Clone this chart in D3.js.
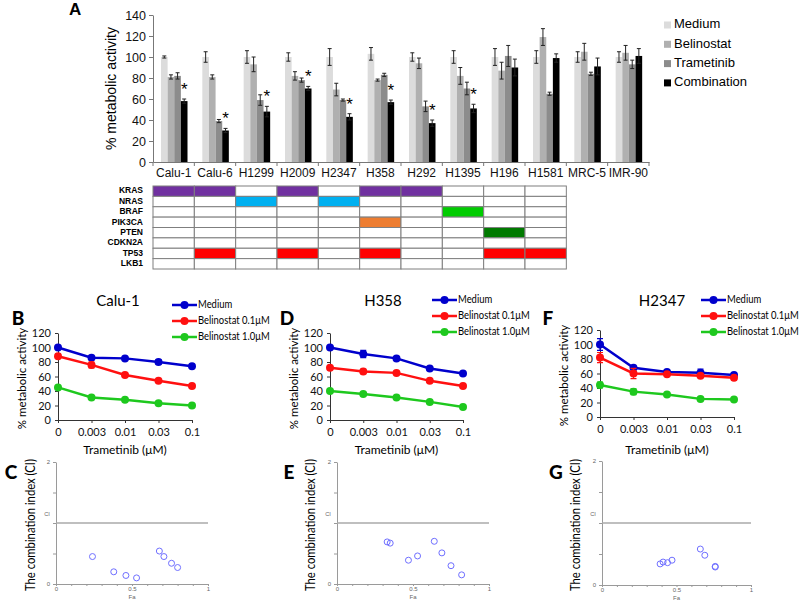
<!DOCTYPE html>
<html>
<head>
<meta charset="utf-8">
<script src="https://cdn.jsdelivr.net/npm/d3@7"></script>
<style>
  body { margin: 0; background: #fff; }
  svg { display: block; }
</style>
</head>
<body>
<script>
// ---------- panel A: bars ----------
const cellLines = ["Calu-1", "Calu-6", "H1299", "H2009", "H2347", "H358", "H292", "H1395", "H196", "H1581", "MRC-5", "IMR-90"];
const treatments = ["Medium", "Belinostat", "Trametinib", "Combination"];
const mediumMean = [100, 100, 100, 100, 100, 103, 100, 100, 100, 100, 100, 100];
const mediumErr = [1, 5, 6, 4, 8, 6, 4, 6, 8, 6, 5, 5];
const belinostatMean = [81, 81, 93, 82, 69, 78, 94, 82, 87, 119, 105, 104];
const belinostatErr = [2, 2, 7, 4, 6, 1, 5, 8, 8, 8, 8, 7];
const trametinibMean = [82, 39, 59, 78, 59, 83, 53, 70, 101, 65, 84, 93];
const trametinibErr = [3, 1.5, 5, 2, 1, 1.5, 5, 6, 10, 1.5, 1.5, 4];
const combinationMean = [58, 30, 48, 70, 43, 57, 37, 51, 90, 99, 91, 101];
const combinationErr = [2, 2, 5, 2, 3, 2, 3, 4, 8, 4, 8, 7];
const significant = ["Calu-1", "Calu-6", "H1299", "H2009", "H2347", "H358", "H292", "H1395"];
const yTicksA = [0, 20, 40, 60, 80, 100, 120, 140];

// mutation table
const tableLines = cellLines.slice(0, 10);
const genes = ["KRAS", "NRAS", "BRAF", "PIK3CA", "PTEN", "CDKN2A", "TP53", "LKB1"];
const mutKRAS = ["Calu-1", "Calu-6", "H2009", "H358", "H292"];
const mutNRAS = ["H1299", "H2347"];
const mutBRAF = ["H1395"];
const mutPIK3CA = ["H358"];
const mutPTEN = ["H196"];
const mutCDKN2A = [];
const mutTP53 = ["Calu-6", "H2009", "H358", "H196", "H1581"];
const mutLKB1 = [];

// ---------- panels B, D, F: dose response ----------
const doses = ["0", "0.003", "0.01", "0.03", "0.1"];
const doseSeries = ["Medium", "Belinostat 0.1\u03bcM", "Belinostat 1.0\u03bcM"];
const yTicksDose = [0, 20, 40, 60, 80, 100, 120];

const calu1Medium = [100, 86, 85, 80, 74];
const calu1MediumErr = [2, 2, 2, 3, 2];
const calu1Bel01 = [88, 76, 62, 54, 47];
const calu1Bel01Err = [3, 4, 2, 2, 2];
const calu1Bel10 = [45, 31, 28, 23, 20];
const calu1Bel10Err = [2, 2, 1, 1, 1];

const h358Medium = [100, 91, 85, 71, 64];
const h358MediumErr = [2, 5, 2, 2, 2];
const h358Bel01 = [72, 67, 65, 54, 47];
const h358Bel01Err = [2, 3, 2, 2, 1];
const h358Bel10 = [40, 36, 31, 25, 18];
const h358Bel10Err = [1, 1, 1, 1, 1];

const h2347Medium = [100, 68, 62, 61, 58];
const h2347MediumErr = [8, 2, 2, 5, 2];
const h2347Bel01 = [82, 60, 59, 57, 54];
const h2347Bel01Err = [7, 7, 2, 2, 3];
const h2347Bel10 = [44, 35, 31, 25, 24];
const h2347Bel10Err = [4, 4, 1, 1, 1];

// ---------- panels C, E, G: combination index ----------
const calu1Fa = [0.24, 0.38, 0.46, 0.53, 0.68, 0.71, 0.76, 0.80];
const calu1CI = [0.45, 0.20, 0.14, 0.10, 0.54, 0.45, 0.34, 0.27];
const h358Fa = [0.33, 0.35, 0.47, 0.53, 0.64, 0.69, 0.75, 0.82];
const h358CI = [0.69, 0.67, 0.39, 0.46, 0.70, 0.51, 0.30, 0.15];
const h2347Fa = [0.39, 0.41, 0.44, 0.47, 0.66, 0.69, 0.76, 0.76];
const h2347CI = [0.34, 0.37, 0.36, 0.40, 0.58, 0.48, 0.30, 0.29];

const arial = "'Liberation Sans', Arial, sans-serif";
const cal = "Lato, 'Open Sans', sans-serif";

const svg = d3.select("body").append("svg").attr("width", 800).attr("height", 600);

// ================= A =================
const barColors = ["#dcdcdc", "#b0b0b0", "#8c8c8c", "#000000"];
const barSeries = [
  {name: "Medium", mean: mediumMean, err: mediumErr},
  {name: "Belinostat", mean: belinostatMean, err: belinostatErr},
  {name: "Trametinib", mean: trametinibMean, err: trametinibErr},
  {name: "Combination", mean: combinationMean, err: combinationErr}
];

const xA = d3.scaleBand().domain(cellLines).range([153, 649]);
const xBar = d3.scaleBand().domain(treatments).range([8, 34.5]);
const yA = d3.scaleLinear().domain([0, 140]).range([162, 15]);

svg.append("text").attr("x", 69).attr("y", 15).text("A")
  .attr("font-family", arial).attr("font-weight", "bold").attr("font-size", 17);

const axA = svg.append("g").attr("transform", "translate(153,0)")
  .call(d3.axisLeft(yA).tickValues(yTicksA).tickSize(4).tickSizeOuter(0).tickPadding(3));
axA.selectAll("text").attr("font-family", arial).attr("font-size", 12.5).attr("fill", "#111");
axA.select(".domain").attr("stroke", "#777");
axA.selectAll(".tick line").attr("stroke", "#777");

svg.append("text")
  .attr("transform", `translate(112,${(yA(0) + yA(140)) / 2}) rotate(-90)`)
  .attr("text-anchor", "middle").attr("dominant-baseline", "middle")
  .attr("font-family", arial).attr("font-size", 14).text("% metabolic activity");

// x axis: labels at band centers, ticks at band edges
const axAx = svg.append("g").attr("transform", `translate(0,${yA(0)})`)
  .call(d3.axisBottom(xA).tickSize(0).tickPadding(6));
axAx.select(".domain").attr("stroke", "#777");
axAx.selectAll("text").attr("font-family", arial).attr("font-size", 12).attr("fill", "#111");
const edges = cellLines.map(d => xA(d)).concat([xA.range()[1]]);
svg.append("g").selectAll("line").data(edges).join("line")
  .attr("x1", d => d).attr("x2", d => d)
  .attr("y1", yA(0)).attr("y2", yA(0) + 4)
  .attr("stroke", "#777");

const gBars = svg.append("g");
barSeries.forEach((s, k) => {
  const g = gBars.append("g");
  g.selectAll("rect").data(cellLines).join("rect")
    .attr("x", d => xA(d) + xBar(s.name))
    .attr("width", xBar.bandwidth())
    .attr("y", (d, i) => yA(s.mean[i]))
    .attr("height", (d, i) => yA(0) - yA(s.mean[i]))
    .attr("fill", barColors[k]);
  g.selectAll("path").data(cellLines).join("path")
    .attr("d", (d, i) => {
      const cx = xA(d) + xBar(s.name) + xBar.bandwidth() / 2;
      const t = yA(s.mean[i] + s.err[i]), b = yA(s.mean[i] - s.err[i]);
      return `M${cx - 2},${t}H${cx + 2}M${cx},${t}V${b}M${cx - 2},${b}H${cx + 2}`;
    })
    .attr("stroke", "#222").attr("stroke-width", 1).attr("fill", "none");
});

// significance stars over the combination bar
svg.append("g").selectAll("text").data(significant).join("text")
  .attr("x", d => xA(d) + xBar("Combination") + xBar.bandwidth() / 2)
  .attr("y", d => {
    const i = cellLines.indexOf(d);
    return yA(combinationMean[i] + combinationErr[i]) - 4;
  })
  .attr("text-anchor", "middle")
  .attr("font-family", arial).attr("font-size", 17).text("*");

// legend
const legA = svg.append("g").attr("transform", "translate(664,25)");
treatments.forEach((t, i) => {
  legA.append("rect").attr("x", 0).attr("y", i * 19.3 - 3.5).attr("width", 7).attr("height", 7).attr("fill", barColors[i]);
  legA.append("text").attr("x", 10).attr("y", i * 19.3).attr("dominant-baseline", "middle")
    .attr("font-family", arial).attr("font-size", 13).text(t);
});

// mutation table
const geneMuts = [mutKRAS, mutNRAS, mutBRAF, mutPIK3CA, mutPTEN, mutCDKN2A, mutTP53, mutLKB1];
const geneColors = ["#7030a0", "#00b0f0", "#00cc00", "#ed7d31", "#007a00", "#ffffff", "#ff0000", "#ffffff"];
const yRow = d3.scaleBand().domain(genes).range([186, 269]);
const gTab = svg.append("g");
genes.forEach((gname, r) => {
  gTab.append("g").selectAll("rect").data(tableLines).join("rect")
    .attr("x", d => xA(d)).attr("width", xA.bandwidth())
    .attr("y", yRow(gname)).attr("height", yRow.bandwidth())
    .attr("fill", d => geneMuts[r].includes(d) ? geneColors[r] : "#ffffff")
    .attr("stroke", "#7f7f7f").attr("stroke-width", 1);
  gTab.append("text").attr("x", 143).attr("y", yRow(gname) + yRow.bandwidth() / 2)
    .attr("text-anchor", "end").attr("dominant-baseline", "middle")
    .attr("font-family", arial).attr("font-weight", "bold").attr("font-size", 8.5).text(gname);
});

// ================= B, D, F =================
const doseColors = ["#0000cc", "#ff1010", "#1ec81e"];
const dosePanels = [
  {title: "Calu-1", letter: "B", means: [calu1Medium, calu1Bel01, calu1Bel10], errs: [calu1MediumErr, calu1Bel01Err, calu1Bel10Err],
   left: 58, right: 192, top: 333, bottom: 420, titleX: 118, letterX: 18, legX: 172, legY: 305, legGap: 16},
  {title: "H358", letter: "D", means: [h358Medium, h358Bel01, h358Bel10], errs: [h358MediumErr, h358Bel01Err, h358Bel10Err],
   left: 330, right: 463, top: 333, bottom: 420, titleX: 383, letterX: 287, legX: 432, legY: 300, legGap: 16},
  {title: "H2347", letter: "F", means: [h2347Medium, h2347Bel01, h2347Bel10], errs: [h2347MediumErr, h2347Bel01Err, h2347Bel10Err],
   left: 600, right: 734, top: 330, bottom: 417, titleX: 662, letterX: 548, legX: 701, legY: 300, legGap: 16}
];

dosePanels.forEach(p => {
  const g = svg.append("g");
  const x = d3.scalePoint().domain(doses).range([p.left, p.right]);
  const y = d3.scaleLinear().domain([0, 120]).range([p.bottom, p.top]);

  g.append("text").attr("x", p.titleX).attr("y", 306).attr("text-anchor", "middle")
    .attr("font-family", cal).attr("font-size", 15).text(p.title);
  g.append("text").attr("x", p.letterX).attr("y", 325).attr("text-anchor", "middle")
    .attr("font-family", cal).attr("font-weight", 900).attr("font-size", 19).text(p.letter);

  const ay = g.append("g").attr("transform", `translate(${p.left},0)`)
    .call(d3.axisLeft(y).tickValues(yTicksDose).tickSize(3).tickSizeOuter(0).tickPadding(4));
  const ax = g.append("g").attr("transform", `translate(0,${p.bottom})`)
    .call(d3.axisBottom(x).tickSize(3).tickSizeOuter(0).tickPadding(5));
  [ay, ax].forEach(a => {
    a.select(".domain").attr("stroke", "#333");
    a.selectAll(".tick line").attr("stroke", "#333");
    a.selectAll("text").attr("font-family", cal).attr("font-size", 11).attr("fill", "#111");
  });

  g.append("text").attr("x", (p.left + p.right) / 2).attr("y", 454).attr("text-anchor", "middle")
    .attr("font-family", cal).attr("font-size", 12).text("Trametinib (\u03bcM)");
  g.append("text")
    .attr("transform", `translate(${p.left - 35},${(p.top + p.bottom) / 2 + 2}) rotate(-90)`)
    .attr("text-anchor", "middle").attr("dominant-baseline", "middle")
    .attr("font-family", cal).attr("font-size", 11.5).text("% metabolic activity");

  const line = d3.line().x((d, i) => x(doses[i])).y(d => y(d));
  p.means.forEach((m, k) => {
    const c = doseColors[k];
    g.append("path").datum(m).attr("d", line).attr("fill", "none").attr("stroke", c).attr("stroke-width", 2.5);
    g.append("g").selectAll("path").data(m).join("path")
      .attr("d", (d, i) => {
        const cx = x(doses[i]), t = y(d + p.errs[k][i]), b = y(d - p.errs[k][i]);
        return `M${cx - 3},${t}H${cx + 3}M${cx},${t}V${b}M${cx - 3},${b}H${cx + 3}`;
      })
      .attr("stroke", c).attr("stroke-width", 1.2).attr("fill", "none");
    g.append("g").selectAll("circle").data(m).join("circle")
      .attr("cx", (d, i) => x(doses[i])).attr("cy", d => y(d)).attr("r", 4).attr("fill", c);
  });

  const leg = g.append("g").attr("transform", `translate(${p.legX},${p.legY})`);
  doseSeries.forEach((s, k) => {
    const yy = k * p.legGap;
    leg.append("line").attr("x1", 0).attr("x2", 25).attr("y1", yy).attr("y2", yy)
      .attr("stroke", doseColors[k]).attr("stroke-width", 2.5);
    leg.append("circle").attr("cx", 12.5).attr("cy", yy).attr("r", 4).attr("fill", doseColors[k]);
    // narrow the text a little, Calibri is more condensed than Lato
    leg.append("text").attr("transform", `translate(26,${yy}) scale(0.86,1)`)
      .attr("dominant-baseline", "middle")
      .attr("font-family", cal).attr("font-size", 11).text(s);
  });
});

// ================= C, E, G =================
const ciPanels = [
  {letter: "C", fa: calu1Fa, ci: calu1CI, left: 56, right: 208, zero: 584, one: 523, letterX: 11, labelX: 32},
  {letter: "E", fa: h358Fa, ci: h358CI, left: 337, right: 489, zero: 584, one: 523, letterX: 289, labelX: 312},
  {letter: "G", fa: h2347Fa, ci: h2347CI, left: 602, right: 751, zero: 585, one: 523, letterX: 556, labelX: 577}
];
const ciGrey = "#9a9a9a";

ciPanels.forEach(p => {
  const g = svg.append("g");
  const x = d3.scaleLinear().domain([0, 1]).range([p.left, p.right]);
  const y = d3.scaleLinear().domain([0, 1]).range([p.zero, p.one]);
  const yAxisScale = d3.scaleLinear().domain([0, 2]).range([p.zero, 2 * p.one - p.zero]);

  g.append("text").attr("x", p.letterX).attr("y", 479).attr("text-anchor", "middle")
    .attr("font-family", cal).attr("font-weight", 900).attr("font-size", 19).text(p.letter);

  const ay = g.append("g").attr("transform", `translate(${p.left},0)`)
    .call(d3.axisLeft(yAxisScale).tickValues([0, 0.5, 1, 1.5, 2]).tickSize(3).tickSizeOuter(0)
      .tickFormat(d => d === 0 ? "0" : d === 2 ? "2" : ""));
  const ax = g.append("g").attr("transform", `translate(0,${p.zero})`)
    .call(d3.axisBottom(x).tickValues(d3.range(0, 1.01, 0.1)).tickSize(2).tickSizeOuter(0)
      .tickFormat(d => Math.abs(d) < 1e-9 ? "0" : Math.abs(d - 0.5) < 1e-9 ? "0.5" : Math.abs(d - 1) < 1e-9 ? "1" : ""));
  [ay, ax].forEach(a => {
    a.select(".domain").attr("stroke", ciGrey);
    a.selectAll(".tick line").attr("stroke", ciGrey);
    a.selectAll("text").attr("font-family", arial).attr("font-size", 6).attr("fill", "#666");
  });
  ax.selectAll("text").attr("dy", "0.4em");

  g.append("text").attr("x", p.left - 9).attr("y", y(1) - 7).attr("text-anchor", "middle")
    .attr("font-family", arial).attr("font-size", 5.5).attr("fill", "#666").text("CI");
  g.append("text").attr("x", x(0.5)).attr("y", p.zero + 15).attr("text-anchor", "middle")
    .attr("font-family", arial).attr("font-size", 6).attr("fill", "#666").text("Fa");

  g.append("line").attr("x1", x(0)).attr("x2", x(1)).attr("y1", y(1)).attr("y2", y(1))
    .attr("stroke", "#aaa").attr("stroke-width", 1.3);

  g.append("g").selectAll("circle").data(p.fa).join("circle")
    .attr("cx", d => x(d)).attr("cy", (d, i) => y(p.ci[i])).attr("r", 3)
    .attr("fill", "none").attr("stroke", "#6f6fff").attr("stroke-width", 1);

  g.append("text")
    .attr("transform", `translate(${p.labelX},${(p.zero + yAxisScale(2)) / 2 + 2}) rotate(-90)`)
    .attr("text-anchor", "middle").attr("dominant-baseline", "middle")
    .attr("font-family", cal).attr("font-size", 13)
    .attr("textLength", 132).attr("lengthAdjust", "spacingAndGlyphs")
    .text("The combination index (CI)");
});
</script>
</body>
</html>
